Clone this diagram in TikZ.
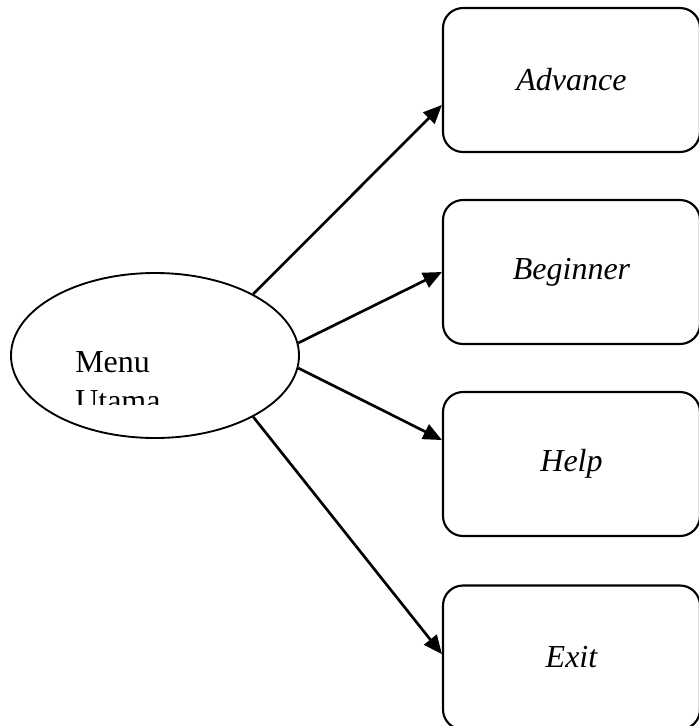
\documentclass[tikz,border=0pt]{standalone}
\usepackage{fontspec}
\setmainfont{Liberation Serif}
\usepackage{tikz}
\usetikzlibrary{arrows.meta, shapes.geometric, positioning}
\tikzset{
    ellipsenode/.style = {draw, ellipse, line width=1.4pt, inner sep = 0em, 
      minimum width=216pt, minimum height=123.75pt},
    roundnode/.style = {draw, rectangle, rounded corners=15pt, line width=1.6pt, 
      minimum width=192.75pt, minimum height=108pt, font=\itshape\fontsize{24}{28.8}\selectfont},
    textnode/.style  = {draw=none, fill=none, rectangle, inner sep = 0em, align=left, 
      font=\fontsize{24}{28.8}\selectfont},
    connect/.style = {black, line width=2pt, -{Triangle[length=14pt,width=12pt]}},
}
\begin{document}
\begin{tikzpicture}[x=0.75pt, y=-0.75pt]
    \useasboundingbox (0,0) rectangle (699,726);

    \node [name=menu, ellipsenode] at (155,355.5) {};
    \begin{scope}
        \clip (60,330) rectangle (260,404.5);
        \node [name=menutext, textnode, anchor=base west] at (75,411) {Menu\\Utama};
    \end{scope}

    \node [name=advance, roundnode] at (571.5,80) {Advance};
    \node [name=beginner, roundnode] at (571.5,272) {Beginner};
    \node [name=help, roundnode] at (571.5,464) {Help};
    \node [name=exit, roundnode] at (571.5,657.5) {Exit};

    \draw [connect] (menu.32) -- ([yshift=-18.75pt]advance.west);
    \draw [connect] (menu.5) -- (beginner.west);
    \draw [connect] (menu.-5) -- ([yshift=18pt]help.west);
    \draw [connect] (menu.-32) -- ([yshift=2.5pt]exit.west);
\end{tikzpicture}
\end{document}
